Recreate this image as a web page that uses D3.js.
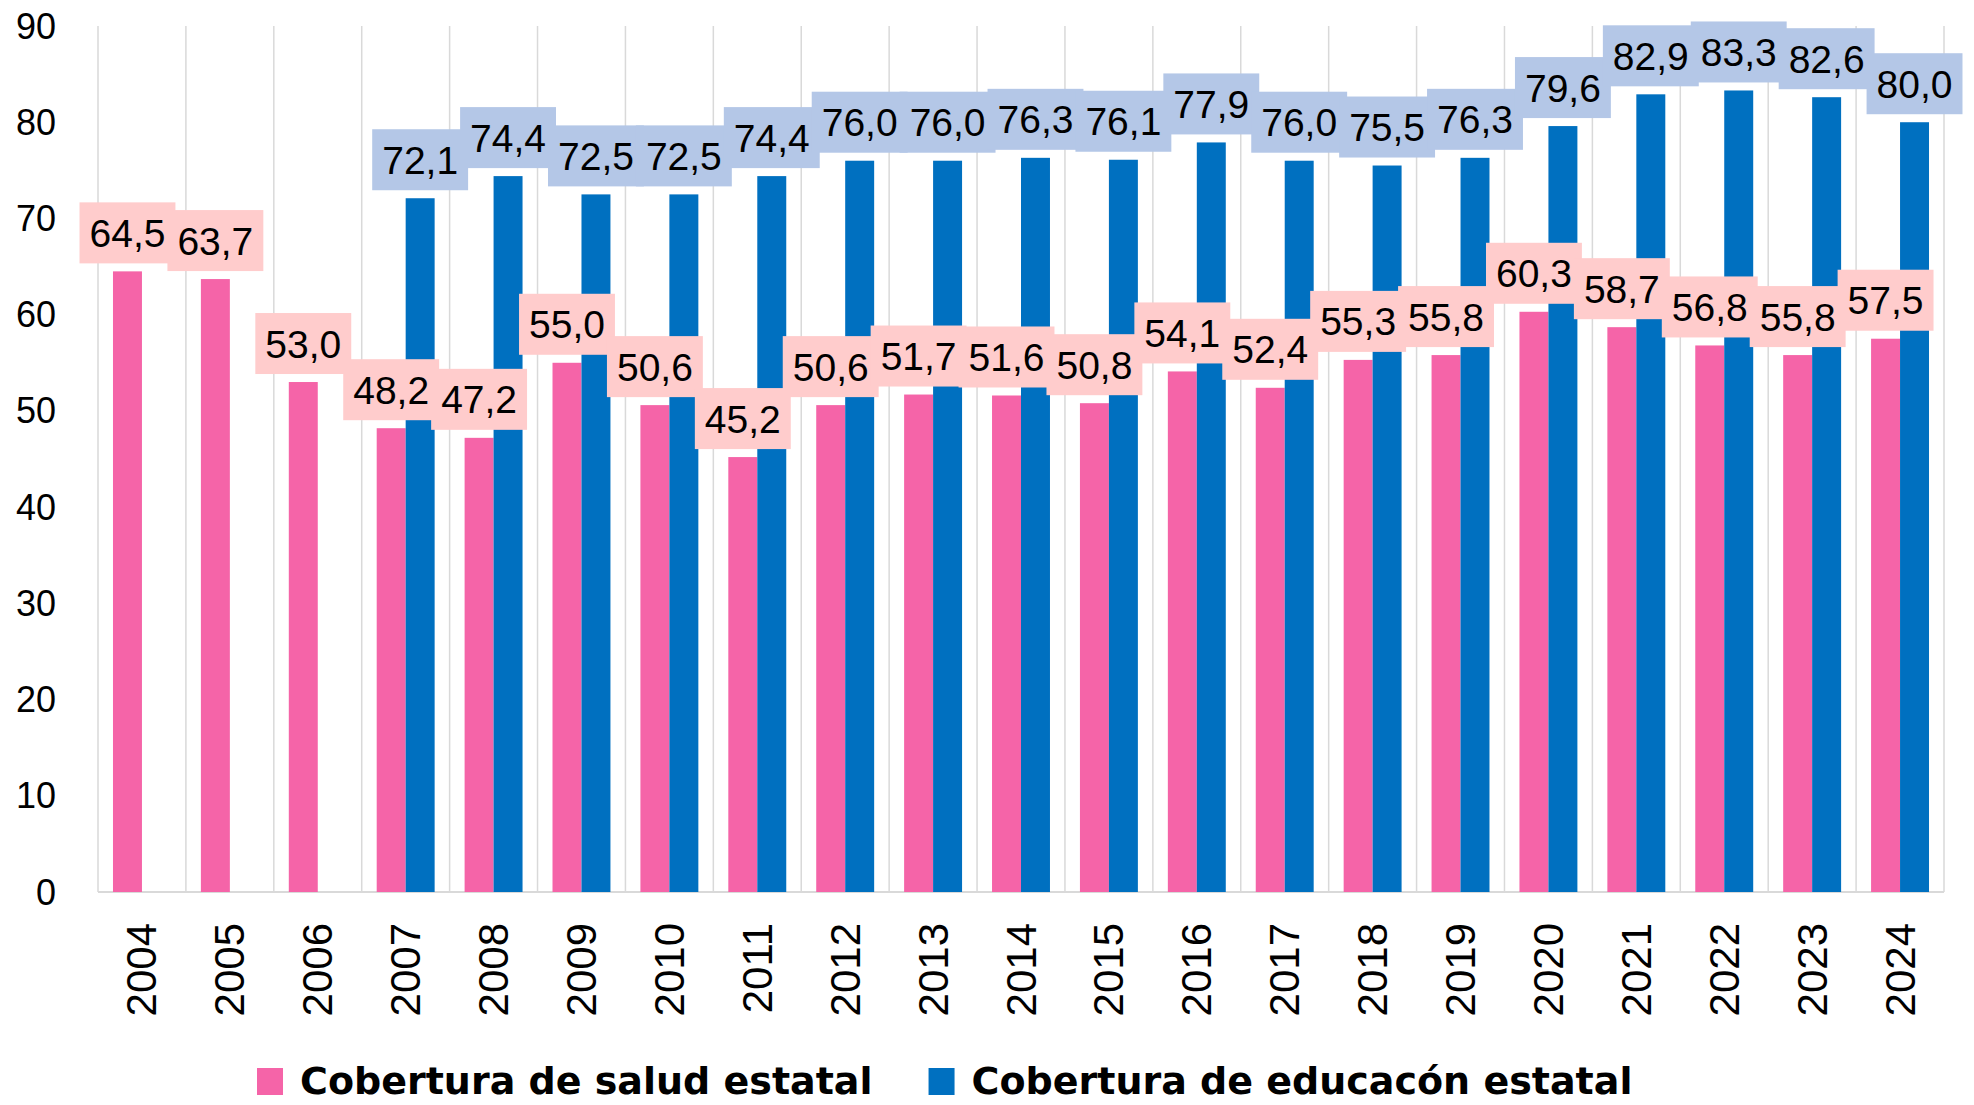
<html>
<head>
  <script src="https://d3js.org/d3.v7.min.js"></script>
  <style>
    body { margin: 0; background: #fff; }
    .gridlines line { stroke: #d9d9d9; stroke-width: 1.5; }
  </style>
</head>
<body>
  <svg id="chart" width="1974" height="1105"></svg>
  <script>
    const years = ['2004', '2005', '2006', '2007', '2008', '2009', '2010', '2011', '2012', '2013', '2014',
      '2015', '2016', '2017', '2018', '2019', '2020', '2021', '2022', '2023', '2024'];
    const salud = [64.5, 63.7, 53.0, 48.2, 47.2, 55.0, 50.6, 45.2, 50.6, 51.7, 51.6,
      50.8, 54.1, 52.4, 55.3, 55.8, 60.3, 58.7, 56.8, 55.8, 57.5];
    const educacion = [null, null, null, 72.1, 74.4, 72.5, 72.5, 74.4, 76.0, 76.0, 76.3,
      76.1, 77.9, 76.0, 75.5, 76.3, 79.6, 82.9, 83.3, 82.6, 80.0];
    const yTicks = [0, 10, 20, 30, 40, 50, 60, 70, 80, 90];
    const seriesNames = ['Cobertura de salud estatal', 'Cobertura de educacón estatal'];

    const colors = ['#F564A8', '#0070C0'];
    const labelFills = ['#FFCCCC', '#B4C7E7'];

    const svg = d3.select('svg#chart');
    const margins = { top: 26, left: 98, right: 30, bottom: 213 };
    const width = +svg.attr('width');
    const height = +svg.attr('height');

    const xScale = d3.scaleBand()
      .domain(years)
      .range([margins.left, width - margins.right])
      .padding(0);

    const inner = d3.scaleBand()
      .domain([0, 1])
      .range([0, xScale.bandwidth()])
      .paddingInner(0)
      .paddingOuter(15 / 29);

    const yScale = d3.scaleLinear()
      .domain([0, 90])
      .range([height - margins.bottom, margins.top]);

    const locale = d3.formatLocale({ decimal: ',', thousands: '.', grouping: [3], currency: ['', ''] });
    const fmt = locale.format('.1f');

    // vertical gridlines between categories
    const bounds = years.map(y => xScale(y)).concat([xScale.range()[1]]);
    svg.append('g')
      .attr('class', 'gridlines')
      .selectAll('line')
      .data(bounds)
      .join('line')
      .attr('x1', d => d).attr('x2', d => d)
      .attr('y1', yScale(90)).attr('y2', yScale(0));

    svg.append('line')
      .attr('x1', xScale.range()[0]).attr('x2', xScale.range()[1])
      .attr('y1', yScale(0)).attr('y2', yScale(0))
      .attr('stroke', '#d9d9d9').attr('stroke-width', 2);

    // y axis labels
    svg.append('g')
      .selectAll('text')
      .data(yTicks)
      .join('text')
      .attr('x', 56)
      .attr('y', d => yScale(d))
      .attr('text-anchor', 'end')
      .attr('dominant-baseline', 'central')
      .style('font-family', 'Liberation Sans, Arial, sans-serif')
      .style('font-size', '36px')
      .text(d => d);

    // x axis labels
    svg.append('g')
      .selectAll('text')
      .data(years)
      .join('text')
      .attr('transform', d => `translate(${xScale(d) + xScale.bandwidth() / 2},923) rotate(-90)`)
      .attr('text-anchor', 'end')
      .attr('dominant-baseline', 'central')
      .style('font-family', 'Liberation Sans, Arial, sans-serif')
      .style('font-size', '42px')
      .text(d => d);

    const series = [salud, educacion];

    // bars
    series.forEach((vals, s) => {
      svg.append('g')
        .selectAll('rect')
        .data(years.map((y, i) => ({ year: y, value: vals[i] })).filter(d => d.value != null))
        .join('rect')
        .attr('x', d => xScale(d.year) + inner(s))
        .attr('width', inner.bandwidth())
        .attr('y', d => yScale(d.value))
        .attr('height', d => yScale(0) - yScale(d.value))
        .attr('fill', colors[s]);
    });

    // data labels
    series.forEach((vals, s) => {
      const items = years.map((y, i) => ({ year: y, value: vals[i] })).filter(d => d.value != null);
      items.forEach(d => {
        const cx = xScale(d.year) + inner(s) + inner.bandwidth() / 2;
        const boxBottom = yScale(d.value) - 8;
        const g = svg.append('g');
        const rect = g.append('rect').attr('fill', labelFills[s]);
        const t = g.append('text')
          .attr('x', cx)
          .attr('y', boxBottom - 30)
          .attr('text-anchor', 'middle')
          .attr('dominant-baseline', 'central')
          .style('font-family', 'Liberation Sans, Arial, sans-serif')
          .style('font-size', '39px')
          .text(fmt(d.value));
        const w = t.node().getComputedTextLength() + 20;
        rect.attr('x', cx - w / 2).attr('width', w)
          .attr('y', boxBottom - 61).attr('height', 61);
      });
    });

    // legend
    const legend = svg.append('g');
    let lx = 257;
    seriesNames.forEach((name, s) => {
      legend.append('rect')
        .attr('x', lx).attr('y', 1068)
        .attr('width', 26).attr('height', 27)
        .attr('fill', colors[s]);
      const t = legend.append('text')
        .attr('x', lx + 43)
        .attr('y', 1094)
        .style('font-family', 'DejaVu Sans, sans-serif')
        .style('font-weight', 'bold')
        .style('font-size', '38px')
        .text(name);
      lx = lx + 43 + t.node().getComputedTextLength() + 56;
    });
  </script>
</body>
</html>
